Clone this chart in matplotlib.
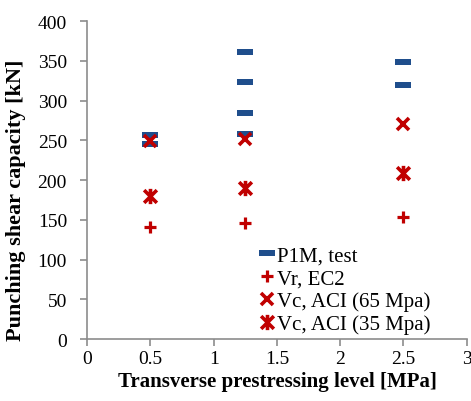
import numpy as np
import matplotlib.pyplot as plt
from matplotlib.path import Path

# data
x_test = [0.5, 0.5, 1.25, 1.25, 1.25, 1.25, 2.5, 2.5]
p1m_test = [257, 245, 361, 323, 285, 258, 348, 320]

x_calc = [0.5, 1.25, 2.5]
vr_ec2 = [141, 146, 153]
vc_aci65 = [249, 252, 271]
vc_aci35 = [180, 190, 209]

blue = '#1f4e8c'
red = '#c00000'
gray = '#8c8c8c'

plt.rcParams['font.family'] = ['Liberation Serif', 'DejaVu Serif']

# excel style markers
dash = [(-1, -0.35), (1, -0.35), (1, 0.35), (-1, 0.35), (-1, -0.35)]
star = Path([(-1, -1), (1, 1), (-1, 1), (1, -1), (0, -1.2), (0, 1.2)],
            [Path.MOVETO, Path.LINETO, Path.MOVETO, Path.LINETO, Path.MOVETO, Path.LINETO])

fig = plt.figure(figsize=(4.71, 4.02), dpi=100)
ax = fig.add_axes([0.185, 0.154, 0.806, 0.791])

ax.plot(x_test, p1m_test, ls='none', marker=dash, ms=12, mew=0, color=blue,
        label='P1M, test')
ax.plot(x_calc, vr_ec2, ls='none', marker='+', ms=8.5, mew=2.3, color=red,
        label='Vr, EC2')
ax.plot(x_calc, vc_aci65, ls='none', marker='x', ms=8.5, mew=2.6, color=red,
        label='Vc, ACI (65 Mpa)')
ax.plot(x_calc, vc_aci35, ls='none', marker=star, ms=11, mew=2.6, color=red,
        label='Vc, ACI (35 Mpa)')

ax.set_xlim(0, 3)
ax.set_ylim(0, 400)
ax.set_xticks(np.arange(0, 3.01, 0.5))
ax.set_xticklabels(['0', '0.5', '1', '1.5', '2', '2.5', '3'])
ax.set_yticks(np.arange(0, 401, 50))

for s in ['top', 'right']:
    ax.spines[s].set_visible(False)
for s in ['left', 'bottom']:
    ax.spines[s].set_color(gray)
    ax.spines[s].set_linewidth(1.2)
ax.tick_params(direction='out', length=5, width=1.2, color=gray, labelsize=14)
ax.tick_params(axis='x', pad=3)
ax.tick_params(axis='y', pad=9.5)

ax.set_xlabel('Transverse prestressing level [MPa]', fontsize=15,
              fontweight='bold', labelpad=3)
ax.set_ylabel('Punching shear capacity [kN]', fontsize=16, fontweight='bold')
ax.yaxis.set_label_coords(-0.16, 0.44)

ax.legend(loc='lower left', bbox_to_anchor=(0.417, -0.03), frameon=False,
          fontsize=15, handlelength=0.7, handletextpad=0.1,
          labelspacing=0.15, borderpad=0.2)

fig.savefig('out.png', dpi=100)
